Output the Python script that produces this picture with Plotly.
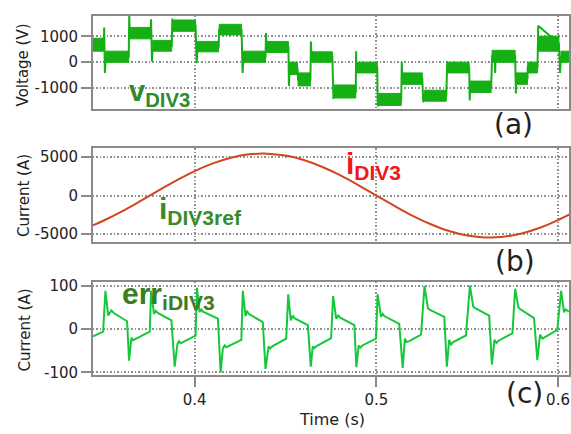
import plotly.graph_objects as go

# ---------------- data ----------------
# (a) voltage: PWM bands (start, end, low, high) and transient spikes
v_seg_start = [0.3440, 0.3511, 0.3643, 0.3769, 0.3879, 0.4016, 0.4135, 0.4269, 0.4396, 0.4522,
               0.4569, 0.4643, 0.4769, 0.4890, 0.5011, 0.5143, 0.5264, 0.5393, 0.5516, 0.5637,
               0.5656, 0.5769, 0.5833, 0.5890, 0.6016]
v_seg_end = [0.3500, 0.3637, 0.3758, 0.3874, 0.4005, 0.4132, 0.4258, 0.4390, 0.4516, 0.4566,
             0.4637, 0.4758, 0.4887, 0.5005, 0.5137, 0.5253, 0.5385, 0.5511, 0.5632, 0.5652,
             0.5764, 0.5832, 0.5887, 0.6005, 0.6070]
v_seg_low = [425, 0, 900, 425, 1190, 400, 1050, 0, 375, -475,
             -910, 0, -1375, -410, -1660, -850, -1500, -410, -1160, 0,
             0, -850, -410, 425, 0]
v_seg_high = [925, 425, 1340, 840, 1625, 800, 1460, 425, 800, 0,
              -410, 400, -875, 0, -1200, -410, -1075, 0, -725, 460,
              460, -410, 0, 1000, 425]
v_spike_t = [0.3502, 0.3506, 0.3640, 0.3760, 0.3765, 0.3877, 0.4011, 0.4264, 0.4393, 0.4519,
             0.4640, 0.4764, 0.48885, 0.5008, 0.5140, 0.5258, 0.5390, 0.5514, 0.5654, 0.5768,
             0.5891, 0.6011]
v_spike_v = [1340, -410, 1780, 1650, 25, 1680, -40, -410, 1125, -910,
             800, -1410, 425, -1700, 25, -1540, 30, -1475, -410, -1200,
             1400, -410]

# (b) current
cur_t = [0.344, 0.35, 0.36, 0.37, 0.38, 0.39, 0.40, 0.41, 0.42, 0.43, 0.44, 0.45, 0.46, 0.47,
         0.48, 0.49, 0.50, 0.51, 0.52, 0.53, 0.54, 0.55, 0.56, 0.57, 0.58, 0.59, 0.60, 0.61]
cur_i = [-3870, -3240, -2050, -730, 640, 1970, 3180, 4180, 4920, 5350, 5440, 5190, 4610, 3740,
         2640, 1360, 0, -1350, -2630, -3730, -4610, -5190, -5440, -5350, -4920, -4180, -3180, -1980]

# (c) current error
err_t = [0.3441, 0.3496, 0.3509, 0.3524, 0.3542, 0.3555, 0.3628, 0.3639, 0.3652, 0.3661,
         0.3670, 0.3753, 0.3760, 0.3776, 0.3786, 0.3797, 0.3872, 0.3890, 0.3905, 0.3914,
         0.3923, 0.4005, 0.4013, 0.4027, 0.4037, 0.4046, 0.4128, 0.4143, 0.4155, 0.4165,
         0.4174, 0.4257, 0.4265, 0.4280, 0.4288, 0.4297, 0.4375, 0.4390, 0.4407, 0.4416,
         0.4427, 0.4504, 0.4515, 0.4529, 0.4540, 0.4549, 0.4623, 0.4639, 0.4650, 0.4659,
         0.4669, 0.4751, 0.4762, 0.4779, 0.4790, 0.4801, 0.4879, 0.4890, 0.4903, 0.4912,
         0.4923, 0.4998, 0.5007, 0.5026, 0.5035, 0.5044, 0.5126, 0.5145, 0.5157, 0.5165,
         0.5181, 0.5246, 0.5265, 0.5284, 0.5295, 0.5374, 0.5388, 0.5401, 0.5412, 0.5423,
         0.5493, 0.5515, 0.5533, 0.5544, 0.5621, 0.5636, 0.5650, 0.5661, 0.5672, 0.5749,
         0.5764, 0.5782, 0.5791, 0.5868, 0.5886, 0.5901, 0.5914, 0.5929, 0.5996, 0.6017,
         0.6033, 0.6042, 0.6060]
err_i = [-17, -6, 88, 31, 43, 37, 18, -73, -20, -26,
         -24, -6, 88, 35, 42, 37, 20, -87, -35, -28,
         -33, -15, 95, 39, 45, 40, 24, -100, -45, -38,
         -42, -25, 88, 30, 42, 35, 16, -92, -40, -45,
         -40, -22, 80, 20, 31, 25, 9, -87, -40, -44,
         -40, -21, 76, 24, 31, 26, 9, -88, -38, -43,
         -38, -22, 80, 28, 35, 30, 12, -90, -22, -30,
         -28, -13, 99, 48, 44, 28, -87, -25, -36, -30,
         -15, 100, 52, 48, 31, -82, -25, -32, -27, -10,
         93, 50, 46, 25, -72, -13, -22, -18, -2, 88,
         39, 45, 40]

x_ticks = [0.4, 0.5, 0.6]
x_tick_labels = ["0.4", "0.5", "0.6"]
v_ticks = [-1000, 0, 1000]
v_tick_labels = ["-1000", "0", "1000"]
i_ticks = [-5000, 0, 5000]
i_tick_labels = ["-5000", "0", "5000"]
e_ticks = [-100, 0, 100]
e_tick_labels = ["-100", "0", "100"]

# ---------------- figure ----------------
W, H = 571, 434
V_COLOR = "#14b014"
fig = go.Figure()

# voltage bands
bx, by = [], []
for s, e, lo, hi in zip(v_seg_start, v_seg_end, v_seg_low, v_seg_high):
    bx += [s, e, e, s, s, None]
    by += [lo, lo, hi, hi, lo, None]
fig.add_trace(go.Scatter(x=bx, y=by, mode="lines", fill="toself", fillcolor=V_COLOR,
                         line=dict(color=V_COLOR, width=1), xaxis="x", yaxis="y",
                         hoverinfo="skip", showlegend=False))
# voltage transitions and spikes
pts = []
for s, e, lo, hi in zip(v_seg_start, v_seg_end, v_seg_low, v_seg_high):
    m = (lo + hi) / 2
    pts += [(s, m), (e, m)]
pts += list(zip(v_spike_t, v_spike_v))
pts.sort(key=lambda p: p[0])
fig.add_trace(go.Scatter(x=[p[0] for p in pts], y=[p[1] for p in pts], mode="lines",
                         line=dict(color=V_COLOR, width=2), xaxis="x", yaxis="y",
                         showlegend=False))

fig.add_trace(go.Scatter(x=cur_t, y=cur_i, mode="lines", line=dict(color="#d0461f", width=2, shape="spline"),
                         xaxis="x2", yaxis="y2", showlegend=False))
fig.add_trace(go.Scatter(x=err_t, y=err_i, mode="lines", line=dict(color="#14c83a", width=2),
                         xaxis="x3", yaxis="y3", showlegend=False))

xr = [0.34396, 0.60604]
xdom = [93 / W, 570 / W]
FRAME = "#8a8a8a"
GRID = "#8f8f8f"
DOTS = "1.5px,2px"
TICKFONT = dict(family="DejaVu Sans", size=15, color="#222222")


def ydom(top, bot):
    return [1 - bot / H, 1 - top / H]


common_x = dict(range=xr, domain=xdom, showline=True, linecolor=FRAME, linewidth=1.5, mirror=True,
                showgrid=True, gridcolor=GRID, griddash=DOTS, gridwidth=1.5,
                tickvals=x_ticks, ticktext=x_tick_labels, zeroline=False)
common_y = dict(showline=True, linecolor=FRAME, linewidth=1.5, mirror=True,
                showgrid=True, gridcolor=GRID, griddash=DOTS, gridwidth=1.5,
                ticks="outside", ticklen=10, tickcolor=FRAME, tickwidth=1.5,
                tickfont=TICKFONT, zeroline=False)

fig.update_layout(
    width=W, height=H, margin=dict(l=0, r=0, t=0, b=0),
    paper_bgcolor="white", plot_bgcolor="white",
    xaxis=dict(**common_x, anchor="y", showticklabels=False, ticks=""),
    yaxis=dict(**common_y, anchor="x", domain=ydom(11, 107), range=[-1810, 1790],
               tickvals=v_ticks, ticktext=v_tick_labels),
    xaxis2=dict(**common_x, anchor="y2", showticklabels=False, ticks=""),
    yaxis2=dict(**common_y, anchor="x2", domain=ydom(147, 243), range=[-6010, 6140],
                tickvals=i_ticks, ticktext=i_tick_labels),
    xaxis3=dict(**common_x, anchor="y3", showticklabels=True, ticks="outside", ticklen=10,
                tickcolor=FRAME, tickwidth=1.5, tickfont=TICKFONT),
    yaxis3=dict(**common_y, anchor="x3", domain=ydom(284, 380), range=[-107, 109],
                tickvals=e_ticks, ticktext=e_tick_labels),
)


def ann(text, px, py, size, color="#222222", family="DejaVu Sans", angle=0, xanchor="center", yanchor="middle"):
    fig.add_annotation(text=text, x=px / W, y=1 - py / H, xref="paper", yref="paper",
                       showarrow=False, textangle=angle, xanchor=xanchor, yanchor=yanchor,
                       font=dict(family=family, size=size, color=color))


ann("Voltage (V)", 23, 61, 15, angle=-90)
ann("Current (A)", 24, 195, 15, angle=-90)
ann("Current (A)", 25, 333, 15, angle=-90)
ann("Time (s)", 333, 425, 16)
ann("(a)", 514, 123, 28)
ann("(b)", 516, 263, 28)
ann("(c)", 525, 399, 28)

LAB = "Liberation Sans"
ann("<b>v<sub>DIV3</sub></b>", 127, 90, 29, color="#2e8b2e", family=LAB, xanchor="left")
ann("<b>i<sub>DIV3ref</sub></b>", 157, 211, 30, color="#3a8c2a", family=LAB, xanchor="left")
ann("<b>i<sub>DIV3</sub></b>", 345, 165, 30, color="#f01818", family=LAB, xanchor="left")
ann("<b>err<sub>iDIV3</sub></b>", 120, 298, 30, color="#3c7d22", family=LAB, xanchor="left")

fig.write_html("out.html")
